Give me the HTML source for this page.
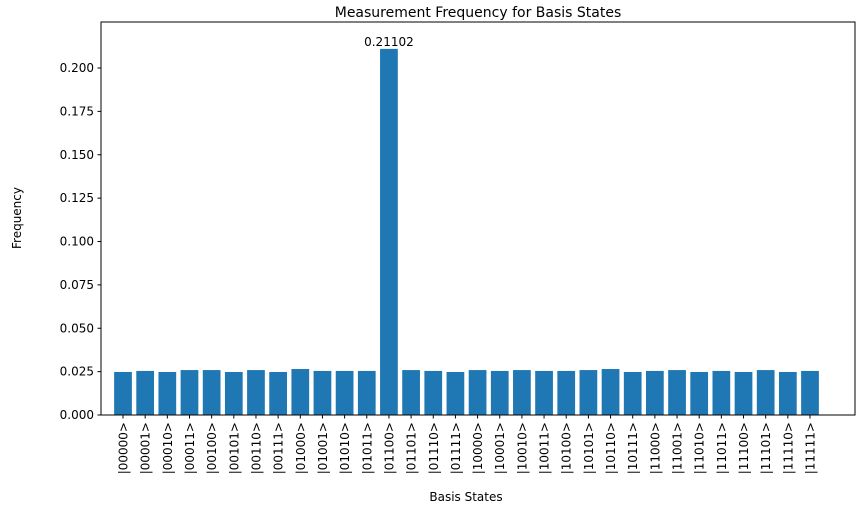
<!DOCTYPE html>
<html><head><meta charset="utf-8"><style>
body{margin:0;background:#fff;font-family:"Liberation Sans","DejaVu Sans",sans-serif;}
svg text{font-family:"DejaVu Sans","Liberation Sans",sans-serif;}
</style></head><body>
<svg id="chart" width="864" height="515" xmlns="http://www.w3.org/2000/svg">
<rect width="864" height="515" fill="#fff"/>
<g id="bars"></g>
<g id="yaxis"></g>
<g id="xaxis"></g>
<rect x="101" y="22" width="754" height="393" fill="none" stroke="#000" stroke-width="1"/>
<text x="478" y="17" font-size="14" text-anchor="middle">Measurement Frequency for Basis States</text>
<text x="466" y="501" font-size="12" text-anchor="middle">Basis States</text>
<text transform="translate(21,218) rotate(-90)" font-size="12" text-anchor="middle">Frequency</text>
</svg>
<script>
const categories=[];for(let i=0;i<32;i++){categories.push('|'+i.toString(2).padStart(5,'0')+'>');}
const values=[0.0248,0.0254,0.0248,0.0259,0.0259,0.0248,0.0259,0.0248,0.0265,0.0254,0.0254,0.0254,0.21102,0.0259,0.0254,0.0248,
0.0259,0.0254,0.0259,0.0254,0.0254,0.0259,0.0265,0.0248,0.0254,0.0259,0.0248,0.0254,0.0248,0.0259,0.0248,0.0254];
const yTicks=[0,0.025,0.05,0.075,0.1,0.125,0.15,0.175,0.2];
const yLabels=['0.000','0.025','0.050','0.075','0.100','0.125','0.150','0.175','0.200'];
const NS='http://www.w3.org/2000/svg';
const y0=415,pxPer=(415-68)/0.2;
function yS(v){return y0-v*pxPer;}
function xS(i){return 123+i*((810-123)/31);}
const bw=0.8*((810-123)/31);
function mk(t,a,p){const e=document.createElementNS(NS,t);for(const k in a)e.setAttribute(k,a[k]);p.appendChild(e);return e;}
const bars=document.getElementById('bars'),ya=document.getElementById('yaxis'),xa=document.getElementById('xaxis');
let maxI=0;values.forEach((v,i)=>{if(v>values[maxI])maxI=i;});
values.forEach((v,i)=>{
 const r=mk('rect',{x:xS(i)-bw/2,y:yS(v),width:bw,height:y0-yS(v),fill:'#1f77b4'},bars);
 
 
 const t=mk('line',{x1:xS(i),x2:xS(i),y1:415,y2:418.5,stroke:'#000'},xa);
 
 
 const l=mk('text',{transform:`translate(${xS(i)+4.5},422) rotate(-90)`,'font-size':12,'text-anchor':'end'},xa);
 l.textContent=categories[i];
 
 
});
const vl=mk('text',{x:xS(maxI),y:yS(values[maxI])-3,'font-size':12,'text-anchor':'middle'},bars);
vl.textContent=values[maxI].toFixed(5);


yTicks.forEach((v,i)=>{
 const t=mk('line',{x1:97.5,x2:101,y1:yS(v),y2:yS(v),stroke:'#000'},ya);
 
 
 const l=mk('text',{x:94,y:yS(v)+4,'font-size':12,'text-anchor':'end'},ya);
 l.textContent=yLabels[i];
 
 
});
</script>
</body></html>
